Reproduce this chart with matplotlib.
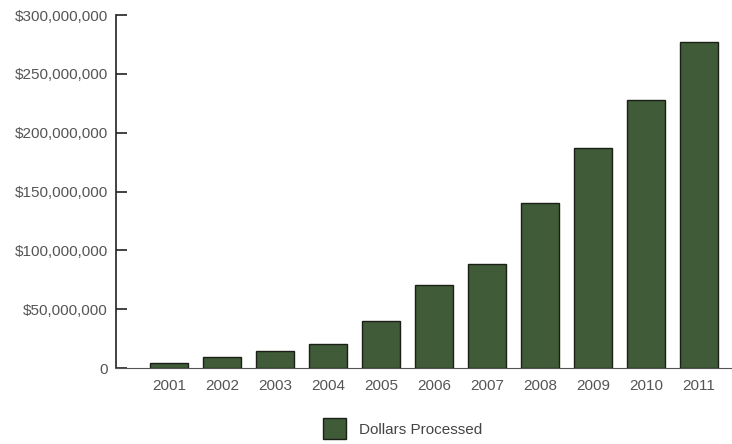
import matplotlib.pyplot as plt
from matplotlib.ticker import FuncFormatter

years = ["2001", "2002", "2003", "2004", "2005", "2006",
         "2007", "2008", "2009", "2010", "2011"]
dollars = [4.5e6, 9.7e6, 14.2e6, 20.7e6, 40.2e6, 70.5e6,
           88.6e6, 140e6, 187e6, 228e6, 277e6]
yticks = [0, 50e6, 100e6, 150e6, 200e6, 250e6, 300e6]

plt.rcParams['font.family'] = ['Liberation Sans', 'DejaVu Sans']

fig = plt.figure(figsize=(7.32, 4.44), dpi=100)
ax = fig.add_axes([116 / 732, 1 - 368 / 444, 1 - 116 / 732, (368 - 15) / 444])

x = range(len(years))
ax.bar(x, dollars, width=0.72, color='#3f5b37', edgecolor='#1a1f18',
       linewidth=1.0, label="Dollars Processed")

ax.set_xlim(-1.0, 10.62)
ax.set_ylim(0, 300e6)
ax.set_yticks(yticks)
ax.yaxis.set_major_formatter(FuncFormatter(lambda v, p: "0" if v == 0 else f"${v:,.0f}"))
ax.set_xticks(list(x))
ax.set_xticklabels(years)

for s in ['top', 'right']:
    ax.spines[s].set_visible(False)
ax.spines['left'].set_color('#222222')
ax.spines['bottom'].set_color('#555555')
ax.spines['left'].set_linewidth(1.2)
ax.tick_params(axis='y', direction='in', length=8, width=1.2, color='#222222',
               labelsize=11, labelcolor='#555555', pad=6)
ax.tick_params(axis='x', length=0, labelsize=11, labelcolor='#555555', pad=8)

fig.legend(loc='lower center', bbox_to_anchor=(0.55, -0.006), frameon=False,
           fontsize=11, handlelength=1.5, handleheight=1.7, borderaxespad=0.1,
           handletextpad=0.9, labelcolor='#444444')

fig.savefig("out.png", dpi=100)
